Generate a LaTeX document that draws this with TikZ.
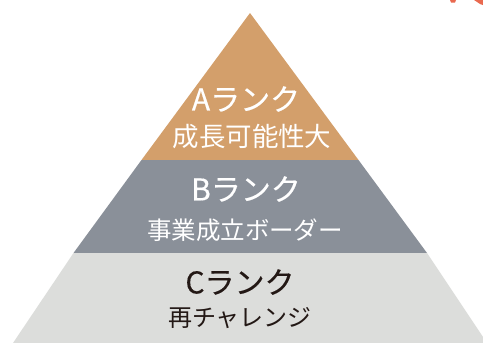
\documentclass[tikz,border=0pt]{standalone}
\usepackage{fontspec}
\setmainfont{Noto Sans CJK JP}
\newfontfamily\heavyjp{Noto Sans CJK JP}[FakeBold=0.4]
\definecolor{rankA}{HTML}{D39F6B}
\definecolor{rankB}{HTML}{8A9099}
\definecolor{rankC}{HTML}{DCDDDB}
\definecolor{darktext}{HTML}{231815}
\definecolor{accent}{HTML}{E9694F}
\begin{document}
\begin{tikzpicture}[x=1pt,y=-1pt,
  title/.style={font=\heavyjp\fontsize{30}{31}\selectfont, inner sep=0pt, anchor=center},
  sub/.style={font=\fontsize{24.5}{26}\selectfont, inner sep=0pt, anchor=center}]
\useasboundingbox (0,0) rectangle (483,343);
\fill[white] (0,0) rectangle (483,343);
% pyramid bands
\fill[rankA] (250,13) -- (358.5,160) -- (141.5,160) -- cycle;
\fill[rankB] (141.5,160) -- (358.5,160) -- (427,253) -- (73.5,253) -- cycle;
\fill[rankC] (73.5,253) -- (427,253) -- (487,343) -- (13,343) -- cycle;
% cropped red fragments at top right
\fill[accent] (450,0) -- (456,0) -- (455,2.5) -- (451,2.5) -- cycle;
\fill[accent] (474,0) -- (483,0) -- (483,5) -- (480,4) -- cycle;
% labels
\node[title, text=white] (aT) at (246,99) {Aランク};
\node[sub, text=white, font=\fontsize{26.5}{28}\selectfont] (aS) at (252,137) {成長可能性大};
\node[title, text=white] (bT) at (246,189) {Bランク};
\node[sub, text=white] (bS) at (245,230) {事業成立ボーダー};
\node[title, text=darktext] (cT) at (240,282) {Cランク};
\node[sub, text=darktext, font=\fontsize{24}{26}\selectfont] (cS) at (240,318) {再チャレンジ};
\end{tikzpicture}
\end{document}
